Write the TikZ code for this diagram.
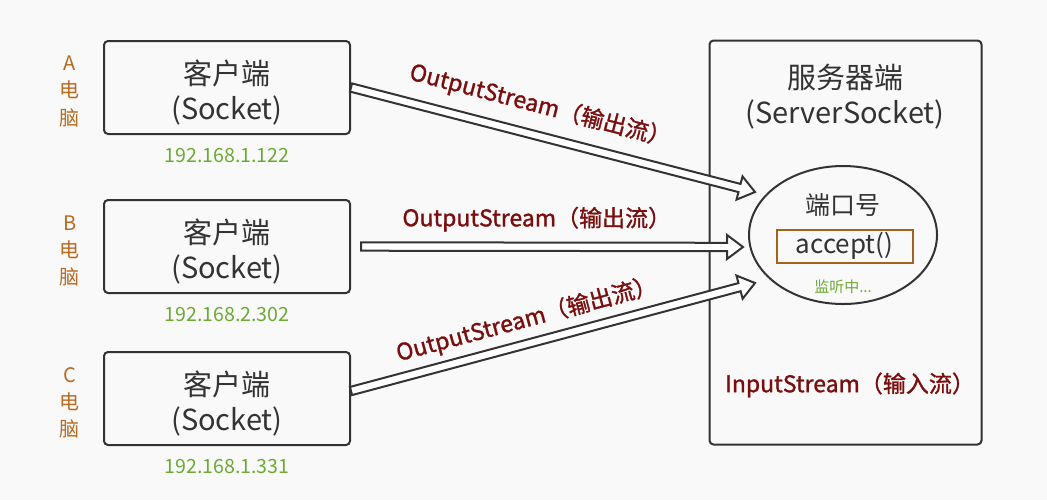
\documentclass[tikz,border=0pt]{standalone}
\usepackage{fontspec}
\setmainfont{Noto Sans CJK SC}
\newfontfamily\streamfont{Noto Sans CJK SC}[FakeBold=1.2]
\usetikzlibrary{positioning}
\usetikzlibrary{calc}
\usetikzlibrary{shapes.geometric}
\definecolor{diagramgray}{RGB}{51,51,51}
\definecolor{diagrambg}{RGB}{249,249,249}
\definecolor{diagramorange}{RGB}{184,106,32}
\definecolor{diagramgreen}{RGB}{108,170,52}
\definecolor{diagramred}{RGB}{122,14,14}
\definecolor{diagrambrown}{RGB}{164,98,32}

% hollow arrow from #1 to #2
\newcommand{\streamarrow}[2]{%
  \draw[streamline] ($(#1)!2.1pt!90:(#2)$) -- ($(#2)!8pt!(#1)!2.1pt!-90:(#1)$)
    -- ($(#2)!8pt!(#1)!6pt!-90:(#1)$) -- (#2) -- ($(#2)!8pt!(#1)!6pt!90:(#1)$)
    -- ($(#2)!8pt!(#1)!2.1pt!90:(#1)$) -- ($(#1)!2.1pt!-90:(#2)$) -- cycle;}

\begin{document}
\begin{tikzpicture}[x=0.5pt, y=-0.5pt, node distance=6pt,
    every node/.style={align=center, text=diagramgray},
    clientbox/.style={draw=diagramgray, line width=1pt, rounded corners=2pt, minimum width=123pt, minimum height=46.5pt, text height=35pt, font=\fontsize{14.5}{17.5}\selectfont},
    pclabel/.style={text=diagramorange, yshift=-2pt, font=\fontsize{10}{13.5}\selectfont},
    iplabel/.style={text=diagramgreen, font=\fontsize{9.8}{11}\selectfont},
    streamlabel/.style={text=diagramred, font=\streamfont\fontsize{11.5}{13}\selectfont},
    streamline/.style={draw=diagramgray, line width=1pt, fill=white, line join=miter}]

        \useasboundingbox (0,0) rectangle (1047,500);
        \fill[diagrambg] (0,0) rectangle (1047,500);

        % clients
        \node[clientbox] (clientA) at (227,87.5) {客户端\\(Socket)};
        \node[clientbox] (clientB) at (227,246.5) {客户端\\(Socket)};
        \node[clientbox] (clientC) at (227,398.5) {客户端\\(Socket)};

        \node[pclabel, left=8pt of clientA] (pcA) {A\\电\\脑};
        \node[pclabel, left=8pt of clientB] (pcB) {B\\电\\脑};
        \node[pclabel, left=8pt of clientC] (pcC) {C\\电\\脑};

        \node[iplabel, below=3pt of clientA] (ipA) {192.168.1.122};
        \node[iplabel, below=3pt of clientB] (ipB) {192.168.2.302};
        \node[iplabel, below=3pt of clientC] (ipC) {192.168.1.331};

        % server
        \node[draw=diagramgray, line width=1pt, rounded corners=2pt, minimum width=136pt, minimum height=202pt] (server) at (845.5,242.5) {};
        \node[font=\fontsize{14.5}{17.5}\selectfont] (servertitle) at (845,97) {服务器端\\(ServerSocket)};
        \node[ellipse, draw=diagramgray, line width=1pt, minimum width=94pt, minimum height=69pt, inner sep=0pt] (port) at (843,235) {};
        \node[font=\fontsize{12.5}{14}\selectfont] (portno) at (843,205) {端口号};
        \node[draw=diagrambrown, line width=1pt, minimum width=68pt, minimum height=16.5pt, inner sep=0pt, font=\fontsize{13}{14}\selectfont] (accept) at (844.5,246) {accept()};
        \node[iplabel, font=\fontsize{7.5}{9}\selectfont] (listen) at (843,287) {监听中...};
        \node[streamlabel] (instream) at (850,385) {InputStream（输入流）};

        % arrows
        \coordinate (tipA) at (755,192);
        \coordinate (tipB) at (743,247);
        \coordinate (tipC) at (755,283);
        \coordinate (startB) at ([xshift=5pt]clientB.east);
        \coordinate (startC) at ([yshift=3.75pt]clientC.east);

        \streamarrow{clientA.east}{tipA}
        \streamarrow{startB}{tipB}
        \streamarrow{startC}{tipC}

        \path (clientA.east) -- (tipA) node[streamlabel, sloped, pos=0.45, above=5pt] (outA) {OutputStream（输出流）};
        \path (startB) -- (tipB) node[streamlabel, sloped, pos=0.46, above=4pt] (outB) {OutputStream（输出流）};
        \path (startC) -- (tipC) node[streamlabel, sloped, pos=0.45, above=2pt] (outC) {OutputStream（输出流）};

    \end{tikzpicture}
\end{document}
